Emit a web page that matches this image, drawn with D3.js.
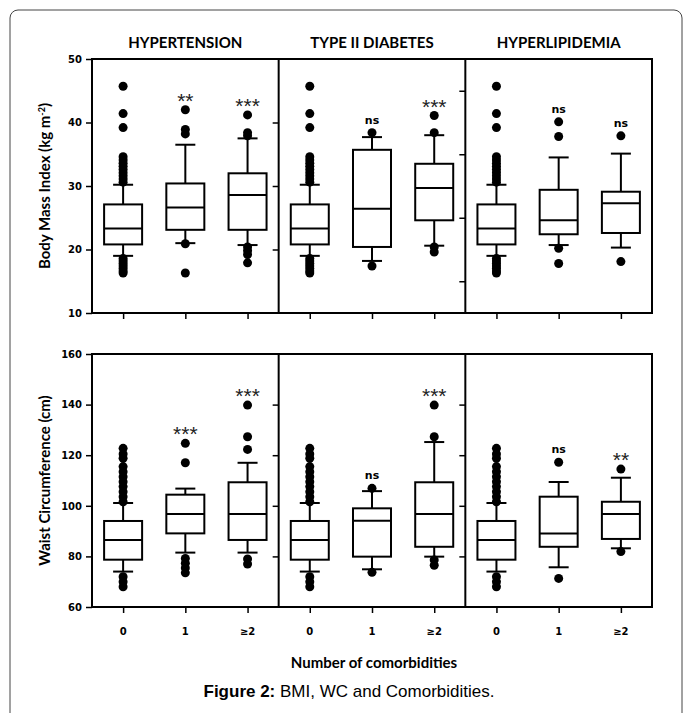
<!DOCTYPE html>
<html>
<head>
<meta charset="utf-8">
<script src="https://d3js.org/d3.v7.min.js"></script>
<style>
  body { margin: 0; background: #fff; }
  .tick-lbl { font-family: "DejaVu Sans", sans-serif; font-weight: bold; font-size: 10px; }
  .title { font-family: Lato, "Open Sans", sans-serif; font-weight: bold; font-size: 15px; }
  .axis-title { font-family: Lato, "Open Sans", sans-serif; font-weight: bold; font-size: 15px; }
  .sig { font-family: "DejaVu Sans", sans-serif; font-weight: bold; font-size: 11px; }
  .stars { font-family: "Liberation Sans", Arial, sans-serif; font-size: 21px; }
  .caption { font-family: "Liberation Sans", Arial, sans-serif; font-size: 17px; }
</style>
</head>
<body>
<div id="chart"></div>
<script>
// categories
var conditions = ["HYPERTENSION", "TYPE II DIABETES", "HYPERLIPIDEMIA"];
var groups = ["0", "1", "≥2"];

// BMI boxes: [lower whisker, q1, median, q3, upper whisker] per condition x group
var bmiBoxes = [
  [[19.0, 20.8, 23.3, 27.1, 30.2], [21.0, 23.1, 26.6, 30.4, 36.5], [20.7, 23.1, 28.6, 32.0, 37.5]],
  [[19.0, 20.8, 23.3, 27.1, 30.2], [18.2, 20.4, 26.4, 35.7, 37.7], [20.6, 24.6, 29.7, 33.5, 38.0]],
  [[19.0, 20.8, 23.3, 27.1, 30.2], [20.7, 22.4, 24.6, 29.4, 34.5], [20.3, 22.6, 27.3, 29.1, 35.1]]
];
var bmiRefOutliers = [45.7, 41.4, 39.2, 34.6, 34.1, 33.6, 33.1, 32.6, 32.1, 31.6, 31.1, 30.6,
                      18.6, 18.2, 17.8, 17.4, 17.0, 16.6, 16.3];
var bmiOutliers = [
  [bmiRefOutliers, [42.0, 38.9, 38.2, 20.9, 16.3], [41.2, 38.4, 37.9, 20.4, 19.8, 19.2, 17.9]],
  [bmiRefOutliers, [38.4, 17.4], [41.1, 38.4, 20.4, 19.6]],
  [bmiRefOutliers, [40.1, 37.8, 20.2, 17.8], [37.9, 18.1]]
];
var bmiSig = [["", "**", "***"], ["", "ns", "***"], ["", "ns", "ns"]];

// WC boxes
var wcBoxes = [
  [[74.0, 78.7, 86.5, 94.0, 101.1], [81.5, 89.1, 96.8, 104.4, 106.8], [81.5, 86.5, 96.8, 109.3, 117.0]],
  [[74.0, 78.7, 86.5, 94.0, 101.1], [74.9, 79.9, 94.1, 99.0, 105.8], [79.9, 83.8, 96.8, 109.3, 125.2]],
  [[74.0, 78.7, 86.5, 94.0, 101.1], [75.7, 83.8, 89.1, 103.6, 109.4], [83.2, 86.9, 96.8, 101.6, 111.1]]
];
var wcRefOutliers = [122.7, 120.5, 118.8, 115.5, 113.5, 111.5, 109.5, 107.6, 105.6, 103.6, 101.6,
                     72.0, 70.0, 68.0];
var wcOutliers = [
  [wcRefOutliers, [124.7, 117.0, 79.2, 77.3, 75.4, 73.5], [139.8, 127.3, 122.3, 79.0, 77.0]],
  [wcRefOutliers, [106.9, 73.7], [139.8, 127.3, 78.6, 76.5]],
  [wcRefOutliers, [117.2, 71.3], [114.5, 81.9]]
];
var wcSig = [["", "***", "***"], ["", "ns", "***"], ["", "ns", "**"]];

var bmiTicks = [10, 20, 30, 40, 50];
var wcTicks = [60, 80, 100, 120, 140, 160];
var bmiTicksInner = [[20, 30, 40], [15, 25, 35, 45]];

var W = 683, H = 713;
var left = 92, right = 652;

var svg = d3.select("#chart").append("svg")
  .attr("width", W).attr("height", H);

// outer rounded frame
svg.append("rect")
  .attr("x", 10).attr("y", 10).attr("width", 672).attr("height", 730)
  .attr("rx", 8)
  .attr("fill", "none").attr("stroke", "#444").attr("stroke-width", 1);

var xPanel = d3.scaleBand().domain(conditions).range([left, right]).padding(0);
var xGroup = d3.scalePoint().domain(groups).range([0, xPanel.bandwidth()]).padding(0.5);

var yBmi = d3.scaleLinear().domain([10, 50]).range([313, 59]);
var yWc = d3.scaleLinear().domain([60, 160]).range([607, 354]);

function drawRow(y, boxes, outliers, sig, ticks, withInner) {
  var g = svg.append("g");
  var top = y.range()[1], bottom = y.range()[0];

  // frame
  g.append("rect")
    .attr("x", left).attr("y", top)
    .attr("width", right - left).attr("height", bottom - top)
    .attr("fill", "none").attr("stroke", "#000").attr("stroke-width", 2);

  // left axis
  var ax = g.append("g").attr("transform", "translate(" + left + ",0)")
    .call(d3.axisLeft(y).tickValues(ticks).tickSize(6).tickPadding(4));
  ax.select(".domain").remove();
  ax.selectAll("line").attr("stroke", "#000").attr("stroke-width", 1.5);
  ax.selectAll("text").attr("class", "tick-lbl").attr("fill", "#000");

  conditions.forEach(function (c, ci) {
    var x0 = xPanel(c);
    if (ci > 0) {
      g.append("line")
        .attr("x1", x0).attr("x2", x0).attr("y1", top).attr("y2", bottom)
        .attr("stroke", "#000").attr("stroke-width", 2);
      var tv = withInner ? bmiTicksInner[ci - 1] : ticks.slice(1, -1);
      var ia = g.append("g").attr("transform", "translate(" + x0 + ",0)")
        .call(d3.axisLeft(y).tickValues(tv).tickSize(6).tickFormat(""));
      ia.select(".domain").remove();
      ia.selectAll("line").attr("stroke", "#000").attr("stroke-width", 1.5);
    }
    // x ticks
    var xa = g.append("g").attr("transform", "translate(" + x0 + "," + bottom + ")")
      .call(d3.axisBottom(xGroup).tickSize(6).tickFormat(""));
    xa.select(".domain").remove();
    xa.selectAll("line").attr("stroke", "#000").attr("stroke-width", 1.5);

    groups.forEach(function (gr, gi) {
      var cx = x0 + xGroup(gr);
      var b = boxes[ci][gi];
      var bw = 38, cw = 20;
      var bg = g.append("g");
      // whiskers
      bg.append("line").attr("x1", cx).attr("x2", cx).attr("y1", y(b[3])).attr("y2", y(b[4]));
      bg.append("line").attr("x1", cx).attr("x2", cx).attr("y1", y(b[1])).attr("y2", y(b[0]));
      bg.append("line").attr("x1", cx - cw / 2).attr("x2", cx + cw / 2).attr("y1", y(b[4])).attr("y2", y(b[4]));
      bg.append("line").attr("x1", cx - cw / 2).attr("x2", cx + cw / 2).attr("y1", y(b[0])).attr("y2", y(b[0]));
      bg.selectAll("line").attr("stroke", "#000").attr("stroke-width", 2);
      bg.append("rect")
        .attr("x", cx - bw / 2).attr("y", y(b[3]))
        .attr("width", bw).attr("height", y(b[1]) - y(b[3]))
        .attr("fill", "#fff").attr("stroke", "#000").attr("stroke-width", 2);
      bg.append("line").attr("x1", cx - bw / 2).attr("x2", cx + bw / 2)
        .attr("y1", y(b[2])).attr("y2", y(b[2]))
        .attr("stroke", "#000").attr("stroke-width", 2);
      // outliers
      bg.selectAll("circle").data(outliers[ci][gi]).enter().append("circle")
        .attr("cx", cx).attr("cy", function (d) { return y(d); })
        .attr("r", 4.5).attr("fill", "#000");
      // significance
      var s = sig[ci][gi];
      if (s) {
        var ymax = y(d3.max(outliers[ci][gi]));
        var star = s.indexOf("*") >= 0;
        bg.append("text")
          .attr("class", star ? "stars" : "sig")
          .attr("x", cx).attr("y", ymax - (star ? 2 : 9))
          .attr("text-anchor", "middle")
          .attr("fill", star ? "#222" : "#000")
          .text(s);
      }
    });
  });
}

drawRow(yBmi, bmiBoxes, bmiOutliers, bmiSig, bmiTicks, true);
drawRow(yWc, wcBoxes, wcOutliers, wcSig, wcTicks, false);

// panel titles
svg.selectAll(".title").data(conditions).enter().append("text")
  .attr("class", "title")
  .attr("x", function (d) { return xPanel(d) + xPanel.bandwidth() / 2; })
  .attr("y", 48)
  .attr("text-anchor", "middle")
  .text(function (d) { return d; });

// x tick labels
conditions.forEach(function (c) {
  svg.selectAll(null).data(groups).enter().append("text")
    .attr("class", "tick-lbl")
    .attr("x", function (d) { return xPanel(c) + xGroup(d); })
    .attr("y", 635)
    .attr("text-anchor", "middle")
    .text(function (d) { return d; });
});

// axis titles
var yt1 = svg.append("text").attr("class", "axis-title")
  .attr("transform", "translate(50," + (yBmi(30)) + ") rotate(-90)")
  .attr("text-anchor", "middle");
yt1.append("tspan").text("Body Mass Index (kg m");
yt1.append("tspan").attr("baseline-shift", "super").attr("font-size", 9).text("-2");
yt1.append("tspan").text(")");

svg.append("text").attr("class", "axis-title")
  .attr("transform", "translate(50," + (yWc(110)) + ") rotate(-90)")
  .attr("text-anchor", "middle")
  .text("Waist Circumference (cm)");

svg.append("text").attr("class", "axis-title")
  .attr("x", 374).attr("y", 668)
  .attr("text-anchor", "middle")
  .attr("font-size", 16)
  .text("Number of comorbidities");

var cap = svg.append("text").attr("class", "caption")
  .attr("x", 349).attr("y", 697)
  .attr("text-anchor", "middle");
cap.append("tspan").attr("font-weight", "bold").text("Figure 2:");
cap.append("tspan").text(" BMI, WC and Comorbidities.");
</script>
</body>
</html>
